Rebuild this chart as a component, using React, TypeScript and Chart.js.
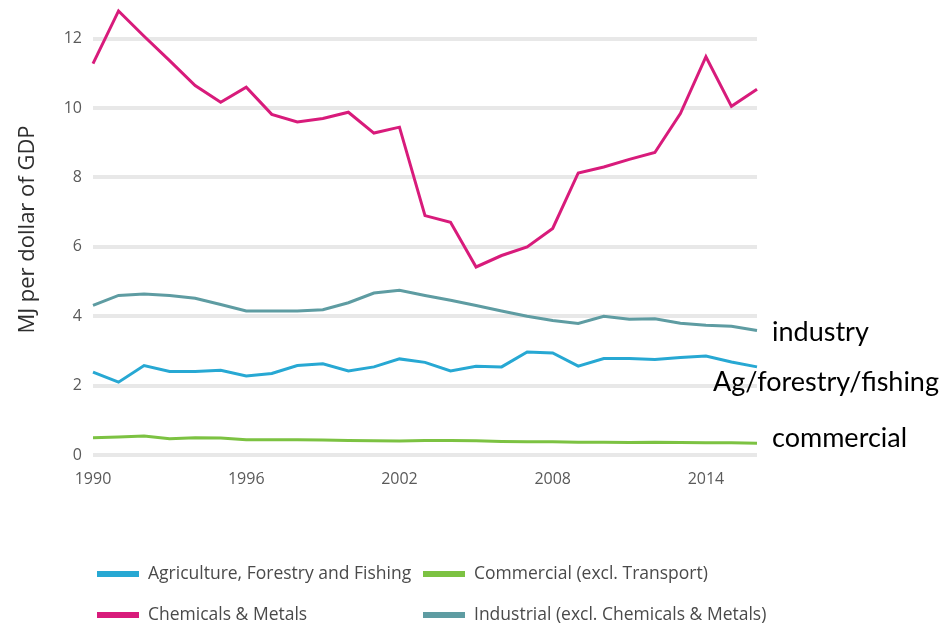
import { useEffect, useRef } from 'react';
import { Chart, registerables } from 'chart.js';

Chart.register(...registerables);

const years = [
  '1990', '1991', '1992', '1993', '1994', '1995', '1996', '1997', '1998',
  '1999', '2000', '2001', '2002', '2003', '2004', '2005', '2006', '2007',
  '2008', '2009', '2010', '2011', '2012', '2013', '2014', '2015', '2016',
];

const agriculture = [
  2.39, 2.1, 2.58, 2.41, 2.41, 2.44, 2.28, 2.35, 2.58, 2.63, 2.42, 2.54, 2.77,
  2.67, 2.42, 2.56, 2.54, 2.97, 2.94, 2.56, 2.78, 2.78, 2.75, 2.81, 2.85, 2.68, 2.54,
];

const commercial = [
  0.5, 0.52, 0.55, 0.47, 0.5, 0.49, 0.44, 0.44, 0.44, 0.43, 0.42, 0.41, 0.4,
  0.42, 0.42, 0.41, 0.39, 0.38, 0.38, 0.37, 0.37, 0.36, 0.37, 0.36, 0.35, 0.35, 0.34,
];

const chemicals = [
  11.28, 12.8, 12.07, 11.37, 10.65, 10.17, 10.6, 9.82, 9.6, 9.7, 9.88, 9.28, 9.45,
  6.9, 6.71, 5.42, 5.75, 6.0, 6.53, 8.13, 8.3, 8.52, 8.72, 9.84, 11.48, 10.05, 10.54,
];

const industrial = [
  4.31, 4.6, 4.64, 4.6, 4.52, 4.34, 4.15, 4.15, 4.15, 4.19, 4.39, 4.67, 4.75,
  4.6, 4.46, 4.31, 4.15, 4.0, 3.88, 3.79, 4.0, 3.91, 3.93, 3.8, 3.74, 3.71, 3.59,
];

const seriesNames = [
  'Agriculture, Forestry and Fishing',
  'Commercial (excl. Transport)',
  'Chemicals & Metals',
  'Industrial (excl. Chemicals & Metals)',
];

const xTickLabels = ['1990', '1996', '2002', '2008', '2014'];
const yTickValues = [0, 2, 4, 6, 8, 10, 12];

const sideNotes = ['industry', 'Ag/forestry/fishing', 'commercial'];

const COLORS = ['#27a8d3', '#7cc242', '#d81b7b', '#5e9ca2'];
const FONT = "'Open Sans', sans-serif";

const gridLegend = {
  id: 'gridLegend',
  afterDraw(chart: any) {
    const ctx = chart.ctx;
    const ds = chart.data.datasets;
    const cols = [97, 423];
    const rows = [574, 615];
    ctx.save();
    ctx.font = `17.5px ${FONT}`;
    ctx.textBaseline = 'middle';
    ctx.textAlign = 'left';
    ds.forEach((d: any, i: number) => {
      const x = cols[i % 2];
      const y = rows[Math.floor(i / 2)];
      ctx.strokeStyle = d.borderColor;
      ctx.lineWidth = 6;
      ctx.beginPath();
      ctx.moveTo(x, y);
      ctx.lineTo(x + 42, y);
      ctx.stroke();
      ctx.fillStyle = '#4a4a4a';
      ctx.fillText(d.label, x + 51, y);
    });
    ctx.restore();
  },
};

const sideLabels = {
  id: 'sideLabels',
  afterDraw(chart: any) {
    const ctx = chart.ctx;
    const yScale = chart.scales.y;
    const right = chart.chartArea.right;
    const last = (arr: number[]) => arr[arr.length - 1];
    const spots = [
      { text: sideNotes[0], x: right + 15, y: yScale.getPixelForValue(last(industrial)) + 2 },
      { text: sideNotes[1], x: right - 44, y: yScale.getPixelForValue(last(agriculture)) + 15 },
      { text: sideNotes[2], x: right + 15, y: yScale.getPixelForValue(last(commercial)) - 5 },
    ];
    ctx.save();
    ctx.font = `27px Lato, sans-serif`;
    ctx.fillStyle = '#000';
    ctx.textBaseline = 'middle';
    ctx.textAlign = 'left';
    spots.forEach((s) => ctx.fillText(s.text, s.x, s.y));
    ctx.restore();
  },
};

export default function App() {
  const ref = useRef<HTMLCanvasElement | null>(null);

  useEffect(() => {
    if (!ref.current) return;
    const mk = (label: string, data: number[], color: string) => ({
      label,
      data,
      borderColor: color,
      backgroundColor: color,
      borderWidth: 3,
      pointRadius: 0,
      tension: 0,
      fill: false,
      clip: false,
    });
    const chart = new Chart(ref.current, {
      type: 'line',
      data: {
        labels: years,
        datasets: [
          mk(seriesNames[0], agriculture, COLORS[0]),
          mk(seriesNames[1], commercial, COLORS[1]),
          mk(seriesNames[2], chemicals, COLORS[2]),
          mk(seriesNames[3], industrial, COLORS[3]),
        ],
      },
      options: {
        responsive: false,
        animation: false,
        devicePixelRatio: 1,
        layout: { padding: { top: 4, right: 188, bottom: 0, left: 0 } },
        plugins: {
          legend: { display: false },
          tooltip: { enabled: false },
        },
        scales: {
          x: {
            type: 'category',
            offset: false,
            grid: { display: false, drawTicks: false },
            border: { display: false },
            ticks: {
              autoSkip: false,
              maxRotation: 0,
              padding: 15,
              color: '#5a5a5a',
              font: { family: FONT, size: 16 },
              callback: function (this: any, _v: any, idx: number) {
                const lab = years[idx];
                return xTickLabels.includes(lab) ? lab : '';
              },
            },
            afterFit: (scale: any) => {
              scale.height = 170;
              scale.paddingLeft = 0;
              scale.paddingRight = 0;
            },
          },
          y: {
            min: 0,
            max: 13,
            grid: { color: '#e8e8e8', lineWidth: 4, drawTicks: false },
            border: { display: false },
            ticks: {
              stepSize: 2,
              padding: 11,
              color: '#5a5a5a',
              font: { family: FONT, size: 16 },
            },
            afterBuildTicks: (axis: any) => {
              axis.ticks = yTickValues.map((v) => ({ value: v }));
            },
            title: {
              display: true,
              text: 'MJ per dollar of GDP',
              color: '#2e2e2e',
              font: { family: FONT, size: 22 },
              padding: { top: 15, bottom: 0 },
            },
            afterFit: (scale: any) => {
              scale.width = 93;
              scale.paddingTop = 0;
              scale.paddingBottom = 0;
            },
          },
        },
      },
      plugins: [gridLegend, sideLabels],
    } as any);
    return () => chart.destroy();
  }, []);

  return (
    <div style={{ position: 'fixed', left: 0, top: 0, width: 945, height: 625, background: '#fff' }}>
      <canvas ref={ref} width={945} height={625} style={{ display: 'block' }} />
    </div>
  );
}
